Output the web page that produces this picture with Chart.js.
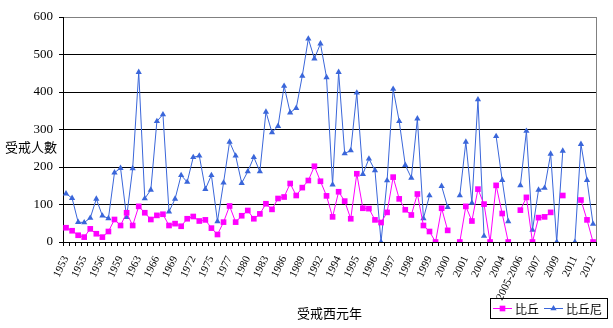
<!DOCTYPE html>
<html>
<head>
<meta charset="utf-8">
<script src="https://cdn.jsdelivr.net/npm/chart.js@4.4.1/dist/chart.umd.min.js"></script>
<style>
  html, body { margin: 0; padding: 0; background: #fff; }
  #wrap { width: 613px; height: 328px; }
</style>
</head>
<body>
<div id="wrap"><canvas id="ordChart" width="613" height="328"></canvas></div>
<script>
// ordination sessions (only every third one is labelled on the axis)
var years = [
  "1953","1954","1954","1955","1955","1956","1956","1957","1958","1959",
  "1960","1961","1963","1964","1965","1966","1967","1968","1969","1970",
  "1971","1972","1973","1974","1975","1976","1976","1977","1978","1979",
  "1980","1981","1982","1983","1984","1985","1986","1987","1988","1989",
  "1990","1991","1992","1993","1993","1994","1994","1995","1995","1995",
  "1996","1996","1996","1997","1997","1997","1998","1998","1998","1999",
  "1999","1999","2000","2000","2000","2001","2001","2001","2002","2002",
  "2003","2003","2004","2004","2005","2005-2006","2006","2007","2007","2008",
  "2008","2009","2010","2010","2011","2011","2012","2012"
];

// 比丘
var monks = [
  38, 30, 18, 13, 35, 22, 13, 28, 60, 44,
  78, 44, 95, 78, 60, 71, 74, 44, 49, 42,
  62, 68, 56, 59, 37, 20, 53, 96, 53, 70,
  84, 62, 75, 102, 87, 116, 120, 156, 124, 145,
  164, 202, 162, 123, 67, 134, 109, 62, 182, 90,
  89, 59, 52, 79, 173, 115, 86, 72, 128, 44,
  28, 0, 90, 31, null, 0, 95, 56, 141, 101,
  0, 151, 76, 0, null, 85, 119, 0, 65, 67,
  79, null, 124, null, null, 112, 59, 0
];

// 比丘尼
var nuns = [
  129, 117, 53, 52, 64, 115, 70, 63, 185, 197,
  66, 196, 453, 116, 139, 322, 340, 81, 115, 178,
  160, 226, 230, 141, 178, 55, 158, 267, 230, 157,
  188, 226, 188, 347, 292, 309, 416, 345, 357, 443,
  542, 489, 529, 439, 153, 453, 236, 244, 398, 181,
  222, 191, 0, 164, 408, 322, 205, 171, 329, 63,
  124, null, 149, 93, null, 124, 267, 104, 380, 16,
  null, 282, 165, 55, null, 151, 296, 32, 139, 144,
  235, 0, 243, null, 0, 261, 165, 48
];

var yTicks = [0, 100, 200, 300, 400, 500, 600];

var pink = "#FF00FF";
var blue = "#3A66DA";
var serif = "'Liberation Serif', 'Noto Sans CJK TC', serif";
var cjk = "'Noto Sans CJK TC', sans-serif";

// axis titles, right border and the boxed legend
var extras = {
  id: "extras",
  afterDraw: function(chart) {
    var c = chart.ctx, a = chart.chartArea;
    c.save();
    c.strokeStyle = "#808080";
    c.lineWidth = 1;
    c.beginPath();
    c.moveTo(Math.round(a.right) + 0.5, a.top);
    c.lineTo(Math.round(a.right) + 0.5, a.bottom);
    c.stroke();

    c.fillStyle = "#000";
    c.font = "13px " + cjk;
    c.textAlign = "center";
    c.textBaseline = "middle";
    c.fillText("受戒人數", 31, 147);
    c.fillText("受戒西元年", (a.left + a.right) / 2, 313);

    // legend
    var bx = 490.5, by = 298.5, bw = 117, bh = 20;
    c.strokeStyle = "#000";
    c.strokeRect(bx, by, bw, bh);
    var ly = by + bh / 2;
    var ds = chart.data.datasets;
    var items = [{x: 493, tx: 515}, {x: 544, tx: 566}];
    c.textAlign = "left";
    c.font = "12px " + cjk;
    for (var i = 0; i < ds.length; i++) {
      var it = items[i];
      c.strokeStyle = ds[i].borderColor;
      c.beginPath();
      c.moveTo(it.x, ly);
      c.lineTo(it.x + 19, ly);
      c.stroke();
      c.fillStyle = ds[i].borderColor;
      Chart.helpers.drawPoint(c, {pointStyle: ds[i].pointStyle, radius: ds[i].pointRadius, borderWidth: 0}, it.x + 9.5, ly);
      c.fillStyle = "#000";
      c.fillText(ds[i].label, it.tx, ly + 1);
    }
    c.restore();
  }
};

var ctx = document.getElementById("ordChart");

var ordChart = new Chart(ctx, {
  type: "line",
  data: {
    labels: years,
    datasets: [
      {
        label: "比丘",
        data: monks,
        borderColor: pink,
        backgroundColor: pink,
        pointBackgroundColor: pink,
        pointBorderWidth: 0,
        pointStyle: "rect",
        pointRadius: 4,
        borderWidth: 1,
        spanGaps: false
      },
      {
        label: "比丘尼",
        data: nuns,
        borderColor: blue,
        backgroundColor: blue,
        pointBackgroundColor: blue,
        pointBorderWidth: 0,
        pointStyle: "triangle",
        pointRadius: 3.6,
        borderWidth: 1,
        spanGaps: false
      }
    ]
  },
  plugins: [extras],
  options: {
    responsive: false,
    animation: false,
    layout: { padding: { top: 17, right: 13, bottom: 0, left: 0 } },
    plugins: {
      legend: { display: false },
      tooltip: { enabled: false }
    },
    scales: {
      x: {
        type: "category",
        offset: true,
        afterFit: function(s) { s.height = 86; },
        border: { color: "#000", width: 1 },
        grid: {
          offset: true,
          drawOnChartArea: false,
          drawTicks: true,
          tickLength: 4,
          color: "#000"
        },
        ticks: {
          autoSkip: false,
          minRotation: 64,
          maxRotation: 64,
          padding: 8,
          color: "#000",
          font: { family: serif, size: 11 },
          callback: function(v, i) { return i % 3 === 0 ? years[i] : ""; }
        }
      },
      y: {
        min: yTicks[0],
        max: yTicks[yTicks.length - 1],
        afterFit: function(s) { s.width = 63; },
        afterBuildTicks: function(s) {
          s.ticks = yTicks.map(function(v) { return {value: v}; });
        },
        border: { color: "#000", width: 1 },
        grid: {
          color: function(c) {
            if (c.tick.value === 600) return "#808080";
            if (c.tick.value === 0) return "rgba(0,0,0,0)";
            return "#000";
          },
          tickColor: "#000",
          tickLength: 4,
          lineWidth: 1
        },
        ticks: {
          padding: 6,
          color: "#000",
          font: { family: serif, size: 13 }
        }
      }
    }
  }
});
</script>
</body>
</html>
